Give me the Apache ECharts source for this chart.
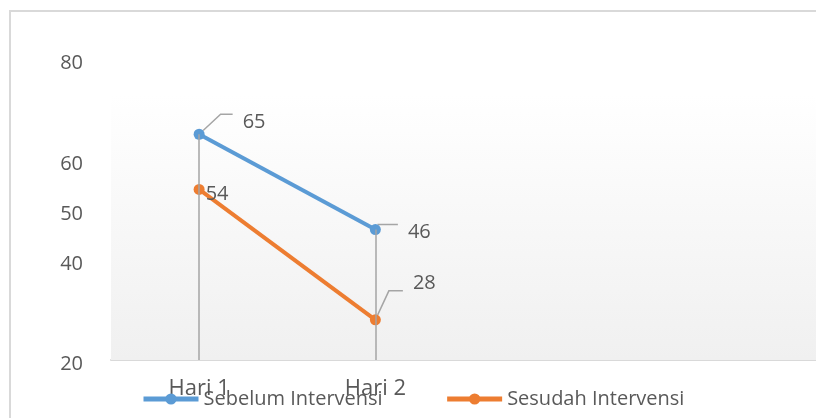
<!DOCTYPE html>
<html>
<head>
<meta charset="utf-8">
<script src="https://cdn.jsdelivr.net/npm/echarts@6/dist/echarts.min.js"></script>
<style>
  html, body { margin: 0; padding: 0; background: #ffffff; }
  #chart { width: 816px; height: 418px; }
</style>
</head>
<body>
<div id="chart"></div>
<script>
// Categories on the x axis (the last two slots are left empty)
const categories = ['Hari 1', 'Hari 2', '', ''];
// Series values
const sebelum = [65, 46];
const sesudah = [54, 28];
// Y-axis values that carry a tick label
const yTickLabels = [20, 40, 50, 60, 80];
const yMin = 20, yMax = 80;

const FONT = 'Open Sans';
const TEXT = '#595959';
const BLUE = '#5B9BD5';
const ORANGE = '#ED7D31';
const GUIDE = '#A5A5A5';

// per-label placement: dx, dy, leader line shown, leader length, text box style
const labelPlace = [
  [
    { dx: 23, dy: -20, line: true, len: 12, box: 'up' },
    { dx: 12, dy: -5, line: true, len: 20, box: 'up' }
  ],
  [
    { dx: -4, dy: 5, line: false, len: 0, box: 'flat' },
    { dx: 17, dy: -29, line: true, len: 14, box: 'down' }
  ]
];

// text boxes: an empty spacer token keeps a gap between the leader line and the text
const labelRich = {
  gap: { width: 10, height: 36, lineHeight: 36 },
  up: { color: TEXT, fontFamily: FONT, fontSize: 20, lineHeight: 24, verticalAlign: 'bottom' },
  down: { color: TEXT, fontFamily: FONT, fontSize: 20, lineHeight: 24, verticalAlign: 'top' },
  flat: { color: TEXT, fontFamily: FONT, fontSize: 20 }
};

function buildData(values, sIdx) {
  return values.map((v, i) => {
    const p = labelPlace[sIdx][i];
    const fmt = p.box === 'flat' ? '{flat|{c}}' : '{gap|}{' + p.box + '|{c}}';
    return {
      value: v,
      label: { formatter: fmt },
      labelLine: { show: p.line, length2: p.len }
    };
  });
}

// drop lines from the highest point of each category down to the axis
const dropLines = sebelum.map((v, i) => [
  { coord: [categories[i], Math.max(v, sesudah[i])] },
  { coord: [categories[i], yMin] }
]);

const chart = echarts.init(document.getElementById('chart'), null, { renderer: 'canvas' });

const labelCommon = {
  show: true,
  position: 'right',
  distance: 5,
  color: TEXT,
  fontFamily: FONT,
  fontSize: 20,
  rich: labelRich
};

const labelLineCommon = {
  lineStyle: { color: GUIDE, width: 1.5 }
};

function layoutFor(sIdx) {
  return p => ({ dx: labelPlace[sIdx][p.dataIndex].dx, dy: labelPlace[sIdx][p.dataIndex].dy });
}

chart.setOption({
  animation: false,
  backgroundColor: '#ffffff',
  textStyle: { fontFamily: FONT },
  graphic: [{
    type: 'rect',
    shape: { x: 10, y: 11, width: 900, height: 500 },
    style: { fill: 'none', stroke: '#D9D9D9', lineWidth: 2 },
    silent: true,
    z: -10
  }],
  grid: { left: 111, top: 59, width: 716, height: 301, containLabel: false },
  legend: {
    left: 141,
    top: 387,
    padding: 0,
    itemWidth: 55,
    itemHeight: 14,
    itemGap: 62,
    lineStyle: { width: 5 },
    textStyle: { color: TEXT, fontFamily: FONT, fontSize: 20, lineHeight: 24 },
    data: ['Sebelum Intervensi', 'Sesudah Intervensi']
  },
  xAxis: {
    type: 'category',
    data: categories,
    boundaryGap: true,
    axisLine: { show: true, lineStyle: { color: '#D9D9D9', width: 2 } },
    axisTick: { show: false },
    axisLabel: { color: TEXT, fontFamily: FONT, fontSize: 22, margin: 18, interval: 0 },
    splitLine: { show: false }
  },
  yAxis: {
    type: 'value',
    min: yMin,
    max: yMax,
    interval: 10,
    axisLine: { show: false },
    axisTick: { show: false },
    splitLine: { show: false },
    axisLabel: {
      margin: 28,
      formatter: v => (yTickLabels.includes(v) ? '{t|' + v + '}' : ''),
      rich: {
        t: { color: TEXT, fontFamily: FONT, fontSize: 20, padding: [9, 0, 0, 0] }
      }
    }
  },
  series: [
    {
      name: 'Sebelum Intervensi',
      type: 'line',
      data: buildData(sebelum, 0),
      z: 3,
      symbol: 'circle',
      symbolSize: 11,
      lineStyle: { color: BLUE, width: 4 },
      itemStyle: { color: BLUE },
      label: labelCommon,
      labelLine: labelLineCommon,
      labelLayout: layoutFor(0),
      emphasis: { disabled: true },
      markArea: {
        silent: true,
        itemStyle: {
          color: new echarts.graphic.LinearGradient(0, 0, 0, 1, [
            { offset: 0, color: '#FFFFFF' },
            { offset: 1, color: '#F0F0F0' }
          ])
        },
        data: [[{ yAxis: 73 }, { yAxis: yMin }]]
      },
      markLine: {
        silent: true,
        symbol: 'none',
        label: { show: false },
        lineStyle: { color: GUIDE, width: 1.5, type: 'solid' },
        data: dropLines
      }
    },
    {
      name: 'Sesudah Intervensi',
      type: 'line',
      data: buildData(sesudah, 1),
      z: 4,
      symbol: 'circle',
      symbolSize: 11,
      lineStyle: { color: ORANGE, width: 4 },
      itemStyle: { color: ORANGE },
      label: labelCommon,
      labelLine: labelLineCommon,
      labelLayout: layoutFor(1),
      emphasis: { disabled: true }
    }
  ]
});
</script>
</body>
</html>
